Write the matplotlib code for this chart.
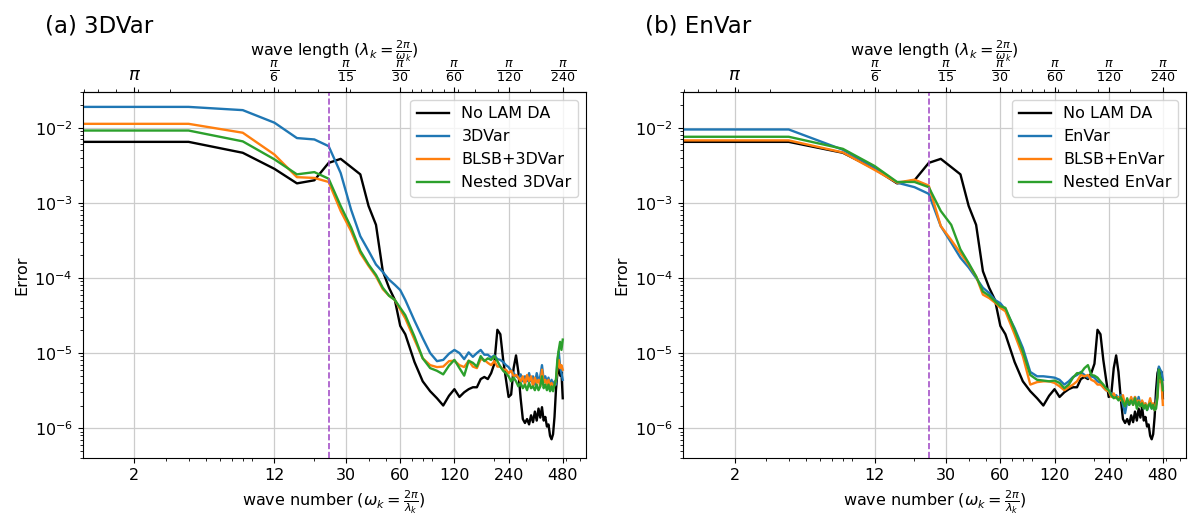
import numpy as np
import matplotlib
matplotlib.use('Agg')
import matplotlib.pyplot as plt

# wave numbers (step 4 at low end, step 8 above 64)
wavenumber = [1, 4, 8, 12, 16, 20, 24, 28, 32, 36, 40, 44, 48, 52, 56, 60, 64,
              72, 80, 88, 96, 104, 112, 120, 128, 136, 144, 152, 160, 168, 176, 184,
              192, 200, 208, 216, 224, 232, 240, 248, 256, 264, 272, 280, 288, 296,
              304, 312, 320, 328, 336, 344, 352, 360, 368, 376, 384, 392, 400, 408,
              416, 424, 432, 440, 448, 456, 464, 472, 480]

no_lam_da = [6.5e-3, 6.5e-3, 4.65e-3, 2.84e-3, 1.82e-3, 2.0e-3, 3.41e-3, 3.86e-3,
             3.0e-3, 2.4e-3, 9.1e-4, 5.1e-4, 1.23e-4, 7.4e-5, 5.1e-5, 2.3e-5, 1.78e-5,
             7.6e-6, 4.2e-6, 3.1e-6, 2.5e-6, 2.0e-6, 2.7e-6, 3.3e-6, 2.6e-6, 3.0e-6,
             3.3e-6, 3.5e-6, 3.5e-6, 4.5e-6, 4.8e-6, 4.5e-6, 5.4e-6, 7.2e-6, 2.04e-5,
             1.78e-5, 8.1e-6, 4.5e-6, 2.6e-6, 2.8e-6, 6.3e-6, 9.3e-6, 5.6e-6, 2.5e-6,
             1.32e-6, 1.17e-6, 1.32e-6, 1.12e-6, 1.48e-6, 1.2e-6, 1.66e-6, 1.26e-6,
             1.82e-6, 1.38e-6, 1.9e-6, 1.26e-6, 1.41e-6, 1.05e-6, 1.12e-6, 7.9e-7,
             7.1e-7, 8.3e-7, 1.41e-6, 3.2e-6, 5.4e-6, 6.3e-6, 5.0e-6, 5.6e-6, 2.5e-6]

# panel (a)
var3d = [1.9e-2, 1.9e-2, 1.72e-2, 1.17e-2, 7.3e-3, 7.0e-3, 5.7e-3, 2.5e-3,
         8.1e-4, 3.6e-4, 2.3e-4, 1.51e-4, 1.2e-4, 9.5e-5, 8.1e-5, 6.9e-5, 5.1e-5,
         2.7e-5, 1.58e-5, 1.0e-5, 7.8e-6, 8.1e-6, 9.8e-6, 1.1e-5, 1.0e-5, 8.3e-6,
         1.02e-5, 8.9e-6, 1.0e-5, 1.1e-5, 9.5e-6, 9.5e-6, 8.7e-6, 9.3e-6, 8.3e-6,
         8.1e-6, 7.6e-6, 6.9e-6, 6.5e-6, 5.8e-6, 5.4e-6, 4.9e-6, 4.7e-6, 5.2e-6,
         4.2e-6, 4.9e-6, 4.2e-6, 5.4e-6, 4.2e-6, 4.9e-6, 3.8e-6, 5.4e-6, 4.2e-6,
         4.9e-6, 6.9e-6, 4.4e-6, 4.9e-6, 4.0e-6, 4.7e-6, 3.6e-6, 4.4e-6, 3.6e-6,
         4.2e-6, 3.8e-6, 7.4e-6, 1.05e-5, 6.6e-6, 5.4e-6, 4.4e-6]

blsb_3dvar = [1.13e-2, 1.13e-2, 8.6e-3, 4.4e-3, 2.2e-3, 2.15e-3, 1.9e-3, 7.8e-4,
              4.2e-4, 2.14e-4, 1.45e-4, 1.05e-4, 7.1e-5, 5.8e-5, 5.1e-5, 3.8e-5, 2.9e-5,
              1.51e-5, 8.5e-6, 6.9e-6, 6.5e-6, 6.6e-6, 7.8e-6, 7.9e-6, 6.9e-6, 6.5e-6,
              7.9e-6, 6.6e-6, 6.3e-6, 8.3e-6, 8.1e-6, 7.4e-6, 6.9e-6, 7.8e-6, 6.6e-6,
              6.6e-6, 6.0e-6, 6.0e-6, 5.4e-6, 5.8e-6, 4.9e-6, 5.1e-6, 4.7e-6, 4.2e-6,
              4.9e-6, 3.8e-6, 5.1e-6, 4.2e-6, 4.9e-6, 3.6e-6, 4.7e-6, 4.0e-6, 4.4e-6,
              3.6e-6, 6.0e-6, 4.0e-6, 4.4e-6, 3.8e-6, 4.4e-6, 3.4e-6, 4.0e-6, 3.4e-6,
              3.8e-6, 4.4e-6, 6.3e-6, 8.1e-6, 6.3e-6, 6.9e-6, 6.0e-6]

nested_3dvar = [9.2e-3, 9.2e-3, 6.6e-3, 3.8e-3, 2.4e-3, 2.57e-3, 2.1e-3, 9.1e-4,
                4.7e-4, 2.3e-4, 1.51e-4, 1.1e-4, 7.4e-5, 5.8e-5, 5.1e-5, 4.0e-5, 3.2e-5,
                1.66e-5, 8.5e-6, 6.3e-6, 5.8e-6, 5.2e-6, 6.8e-6, 8.1e-6, 6.3e-6, 5.0e-6,
                7.9e-6, 7.4e-6, 6.6e-6, 9.1e-6, 7.8e-6, 8.5e-6, 8.1e-6, 9.1e-6, 7.8e-6,
                6.6e-6, 5.8e-6, 5.4e-6, 4.9e-6, 4.2e-6, 4.7e-6, 4.2e-6, 3.6e-6, 4.0e-6,
                3.4e-6, 3.8e-6, 3.2e-6, 4.0e-6, 3.4e-6, 3.6e-6, 3.2e-6, 3.8e-6, 3.2e-6,
                3.6e-6, 4.9e-6, 3.4e-6, 3.8e-6, 3.2e-6, 3.8e-6, 3.1e-6, 3.6e-6, 3.1e-6,
                3.8e-6, 4.4e-6, 8.1e-6, 1.1e-5, 1.41e-5, 1.1e-5, 1.51e-5]

# panel (b)
envar = [9.5e-3, 9.5e-3, 5.1e-3, 2.95e-3, 1.86e-3, 1.62e-3, 1.32e-3, 4.9e-4,
         2.95e-4, 1.86e-4, 1.38e-4, 1.0e-4, 7.4e-5, 6.3e-5, 5.1e-5, 4.6e-5, 3.8e-5,
         2.14e-5, 1.17e-5, 5.6e-6, 4.9e-6, 4.9e-6, 4.8e-6, 4.7e-6, 4.4e-6, 3.8e-6,
         4.2e-6, 4.8e-6, 5.1e-6, 5.6e-6, 5.1e-6, 4.7e-6, 4.9e-6, 4.7e-6, 4.2e-6,
         4.0e-6, 3.5e-6, 3.2e-6, 3.1e-6, 2.9e-6, 2.6e-6, 2.75e-6, 2.5e-6, 2.75e-6,
         2.04e-6, 1.58e-6, 2.24e-6, 2.04e-6, 2.5e-6, 2.14e-6, 2.6e-6, 2.04e-6, 2.6e-6,
         2.04e-6, 2.24e-6, 1.82e-6, 2.14e-6, 1.74e-6, 1.95e-6, 2.34e-6, 1.82e-6,
         1.95e-6, 1.74e-6, 2.14e-6, 3.2e-6, 6.6e-6, 6.0e-6, 5.6e-6, 4.4e-6]

blsb_envar = [6.8e-3, 6.8e-3, 4.7e-3, 2.75e-3, 1.86e-3, 2.04e-3, 1.7e-3, 4.9e-4,
              3.2e-4, 2.14e-4, 1.51e-4, 1.05e-4, 6.0e-5, 5.4e-5, 4.7e-5, 4.0e-5, 3.6e-5,
              1.78e-5, 9.1e-6, 3.8e-6, 4.1e-6, 4.2e-6, 4.2e-6, 4.0e-6, 3.6e-6, 3.2e-6,
              3.5e-6, 3.8e-6, 4.2e-6, 5.1e-6, 4.9e-6, 5.1e-6, 4.4e-6, 4.2e-6, 3.8e-6,
              3.8e-6, 3.5e-6, 3.2e-6, 3.1e-6, 2.6e-6, 2.9e-6, 2.5e-6, 2.6e-6, 2.34e-6,
              2.75e-6, 2.04e-6, 2.34e-6, 2.14e-6, 2.6e-6, 2.04e-6, 2.6e-6, 2.14e-6,
              2.34e-6, 1.95e-6, 2.34e-6, 2.04e-6, 2.14e-6, 1.82e-6, 2.04e-6, 2.5e-6,
              1.95e-6, 2.14e-6, 1.74e-6, 2.04e-6, 2.6e-6, 4.9e-6, 4.2e-6, 4.0e-6, 2.04e-6]

nested_envar = [7.6e-3, 7.6e-3, 5.25e-3, 3.1e-3, 1.9e-3, 1.9e-3, 1.62e-3, 7.8e-4,
                5.1e-4, 2.4e-4, 1.58e-4, 1.05e-4, 6.6e-5, 5.8e-5, 4.9e-5, 4.2e-5, 4.0e-5,
                2.04e-5, 1.05e-5, 5.1e-6, 4.4e-6, 4.3e-6, 4.2e-6, 4.3e-6, 4.0e-6, 3.4e-6,
                3.8e-6, 4.7e-6, 5.4e-6, 5.4e-6, 6.3e-6, 6.9e-6, 5.1e-6, 5.0e-6, 4.7e-6,
                4.2e-6, 3.8e-6, 3.4e-6, 3.2e-6, 2.75e-6, 2.5e-6, 2.6e-6, 2.34e-6, 2.6e-6,
                2.24e-6, 1.95e-6, 2.5e-6, 2.04e-6, 2.34e-6, 2.04e-6, 2.5e-6, 1.82e-6,
                2.24e-6, 1.95e-6, 2.14e-6, 1.82e-6, 2.04e-6, 1.74e-6, 2.04e-6, 2.14e-6,
                1.82e-6, 2.04e-6, 1.74e-6, 1.82e-6, 2.6e-6, 6.0e-6, 4.7e-6, 4.4e-6, 3.2e-6]

split_wavenumber = 24
tick_wavenumbers = [2, 12, 30, 60, 120, 240, 480]
tick_wavelength_labels = [r'$\pi$', r'$\frac{\pi}{6}$', r'$\frac{\pi}{15}$', r'$\frac{\pi}{30}$',
                          r'$\frac{\pi}{60}$', r'$\frac{\pi}{120}$', r'$\frac{\pi}{240}$']


def w2l(w):
    with np.errstate(divide='ignore'):
        return 2 * np.pi / np.asarray(w, dtype=float)


def draw_panel(ax, title, name, exp_runs):
    ax.plot(wavenumber, no_lam_da, color='k', lw=1.7, label='No LAM DA')
    ax.plot(wavenumber, exp_runs[0], color='tab:blue', lw=1.7, label=name)
    ax.plot(wavenumber, exp_runs[1], color='tab:orange', lw=1.7, label='BLSB+' + name)
    ax.plot(wavenumber, exp_runs[2], color='tab:green', lw=1.7, label='Nested ' + name)
    ax.axvline(split_wavenumber, color='#a552c8', ls='--', lw=1.2)

    ax.set_xscale('log')
    ax.set_yscale('log')
    ax.set_xlim(1.03, 647)
    ax.set_ylim(4.0e-7, 3.0e-2)
    ax.set_xticks(tick_wavenumbers, [str(t) for t in tick_wavenumbers])
    ax.tick_params(labelsize=11.5)
    ax.grid(True, color='#cccccc', lw=0.9)
    ax.set_ylabel('Error', fontsize=11.5)
    ax.set_xlabel(r'wave number ($\omega_k=\frac{2\pi}{\lambda_k}$)', fontsize=11.5)
    ax.legend(loc='upper right', fontsize=11.5)

    top = ax.secondary_xaxis('top', functions=(w2l, w2l))
    top.set_xticks(w2l(tick_wavenumbers), tick_wavelength_labels)
    top.tick_params(labelsize=13, pad=2)
    top.set_xlabel(r'wave length ($\lambda_k=\frac{2\pi}{\omega_k}$)', fontsize=11.5, labelpad=2)

    fig.text(ax.get_position().x0 - 0.031, 0.95, title, fontsize=16.5, va='center')


fig = plt.figure(figsize=(12, 5.26), dpi=100)
ax1 = fig.add_axes([0.0688, 0.1293, 0.4196, 0.6958])
ax2 = fig.add_axes([0.5689, 0.1293, 0.4196, 0.6958])

draw_panel(ax1, '(a) 3DVar', '3DVar', [var3d, blsb_3dvar, nested_3dvar])
draw_panel(ax2, '(b) EnVar', 'EnVar', [envar, blsb_envar, nested_envar])

fig.savefig('out.png', dpi=100)
